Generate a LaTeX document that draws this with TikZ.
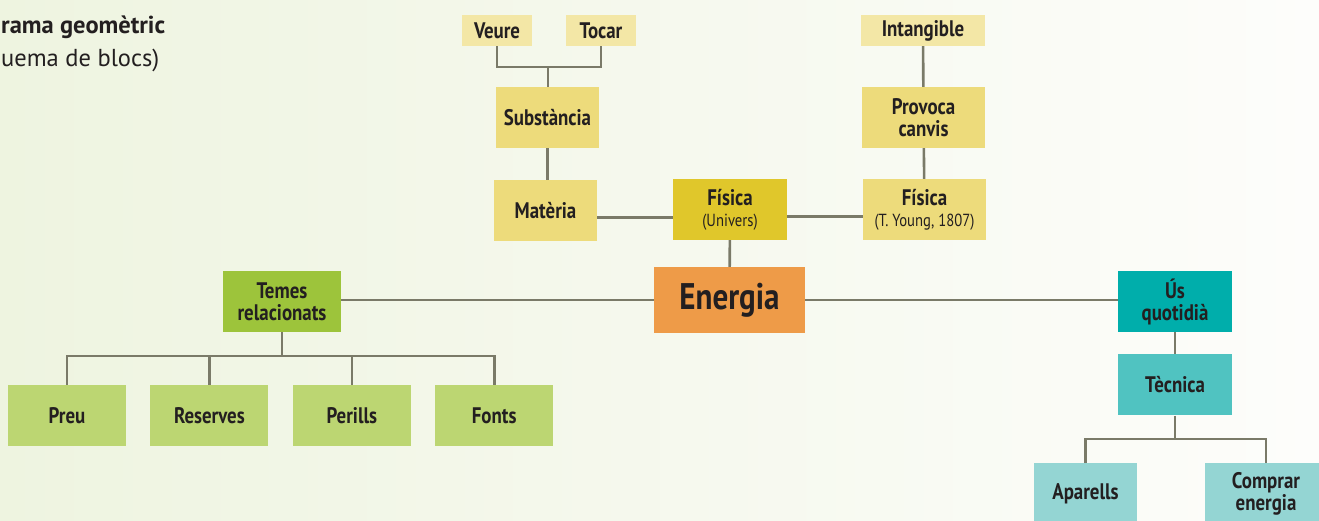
\documentclass[tikz,border=0pt]{standalone}
\usepackage{fontspec}
\setmainfont{PT Sans}
\newfontfamily\boxfont[FakeStretch=0.84]{PT Sans}
\usetikzlibrary{positioning,calc}
\definecolor{bgLeft}{HTML}{EEF4E0}
\definecolor{bgRight}{HTML}{FDFDFB}
\definecolor{lineGray}{HTML}{7A7A68}
\definecolor{paleYellow}{HTML}{F3E7A6}
\definecolor{midYellow}{HTML}{EDDB7B}
\definecolor{deepYellow}{HTML}{E0C72B}
\definecolor{energyOrange}{HTML}{EE9B48}
\definecolor{leafGreen}{HTML}{9DC43B}
\definecolor{paleGreen}{HTML}{BCD672}
\definecolor{deepTeal}{HTML}{00AEAB}
\definecolor{midTeal}{HTML}{50C3C1}
\definecolor{paleTeal}{HTML}{94D5D3}
\definecolor{inkDark}{HTML}{231F20}

\begin{document}
\begin{tikzpicture}[
        x=1pt,y=-1pt,
        box/.style={inner sep=0pt,minimum height=61pt,align=center,text=inkDark,font=\boxfont\bfseries\fontsize{22.5}{22}\selectfont},
        tag/.style={box,minimum height=31pt},
        link/.style={draw=lineGray,line width=2.6pt}
      ]
        \useasboundingbox (0,0) rectangle (1319,520);
        \shade[left color=bgLeft,right color=bgRight] (0,0) rectangle (1319,520);
        % titol
        \node[anchor=base west,inner sep=0pt,text=inkDark,font=\bfseries\fontsize{24.5}{26}\selectfont] (titol) at (1,33) {rama geomètric};
        \node[anchor=base west,inner sep=0pt,text=inkDark,font=\fontsize{24.5}{26}\selectfont] (subtitol) at (1,66) {uema de blocs)};
        % centre
        \node[box,fill=energyOrange,minimum width=151pt,minimum height=66pt,font=\boxfont\bfseries\fontsize{37}{37}\selectfont] (energia) at (729.5,300) {Energia};
        \node[box,fill=deepYellow,minimum width=114pt] (univers) at (730,209.5) {Física\\[-1pt]{\mdseries\fontsize{17.5}{18}\selectfont (Univers)}};
        \node[box,fill=midYellow,minimum width=103pt] (materia) at (545.5,210.5) {Matèria};
        \node[box,fill=midYellow,minimum width=123pt] (young) at (924.5,209.5) {Física\\[-1pt]{\mdseries\fontsize{17.5}{18}\selectfont (T. Young, 1807)}};
        \node[box,fill=midYellow,minimum width=103pt] (substancia) at (547.5,117.5) {Substància};
        \node[box,fill=midYellow,minimum width=123pt] (provoca) at (923.5,117.5) {Provoca\\canvis};
        \node[tag,fill=paleYellow,minimum width=70pt] (veure) at (497,30.5) {Veure};
        \node[tag,fill=paleYellow,minimum width=70pt] (tocar) at (601,30.5) {Tocar};
        \node[tag,fill=paleYellow,minimum width=124pt] (intangible) at (923,30.5) {Intangible};
        % esquerra
        \node[box,fill=leafGreen,minimum width=118pt] (temes) at (282,301.5) {Temes\\relacionats};
        \node[box,fill=paleGreen,minimum width=118pt] (preu) at (67,415.5) {Preu};
        \node[box,fill=paleGreen,minimum width=118pt,right=24pt of preu] (reserves) {Reserves};
        \node[box,fill=paleGreen,minimum width=118pt,right=24pt of reserves] (perills) {Perills};
        \node[box,fill=paleGreen,minimum width=118pt,right=24pt of perills] (fonts) {Fonts};
        % dreta
        \node[box,fill=deepTeal,minimum width=114pt] (us) at (1175,301.5) {Ús\\quotidià};
        \node[box,fill=midTeal,minimum width=114pt,below=22pt of us] (tecnica) {Tècnica};
        \node[box,fill=paleTeal,minimum width=103pt] (aparells) at (1085.5,493.5) {Aparells};
        \node[box,fill=paleTeal,minimum width=122pt] (comprar) at (1266,493.5) {Comprar\\energia};
        \coordinate (fork1) at (548,67);
        \coordinate (bus1) at (282,356);
        \coordinate (bus2) at (1175,439);
        % enllacos
        \draw[link] (veure.south) |- (fork1) -| (tocar.south);
        \draw[link] (fork1) -- (fork1 |- substancia.north);
        \draw[link] (substancia.south) -- (substancia.south |- materia.north);
        \draw[link] ([yshift=-7pt]materia.east) -- ([yshift=-7pt]materia.east -| univers.west);
        \draw[link] ([yshift=-7pt]univers.east) -- ([yshift=-7pt]univers.east -| young.west);
        \draw[link] (intangible) -- (provoca);
        \draw[link] (provoca) -- (young);
        \draw[link] (univers) -- (energia);
        \draw[link] (energia.west) -- (energia.west -| temes.east);
        \draw[link] (energia.east) -- (energia.east -| us.west);
        \draw[link] (temes) -- (bus1);
        \foreach \n in {preu,reserves,perills,fonts}
          \draw[link] (\n.north) |- (bus1);
        \draw[link] (us) -- (tecnica);
        \draw[link] (tecnica) -- (bus2);
        \foreach \n in {aparells,comprar}
          \draw[link] (\n.north) |- (bus2);
      \end{tikzpicture}
\end{document}
